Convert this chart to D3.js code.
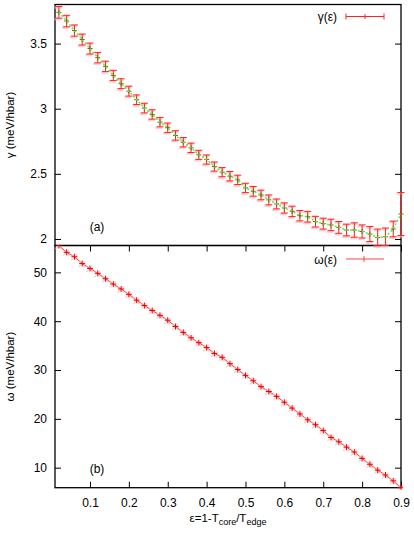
<!DOCTYPE html>
<html><head><meta charset="utf-8">
<script src="https://cdn.jsdelivr.net/npm/d3@7"></script>
<style>body{margin:0;background:#fff}svg{display:block}text{font-family:"Liberation Sans",Arial,sans-serif}</style>
</head><body><svg id="c" width="414" height="533"></svg>
<script>
const eps = [0.02,0.04,0.06,0.08,0.10,0.12,0.14,0.16,0.18,0.20,0.22,0.24,0.26,0.28,0.30,0.32,0.34,0.36,0.38,0.40,0.42,0.44,0.46,0.48,0.50,0.52,0.54,0.56,0.58,0.60,0.62,0.64,0.66,0.68,0.70,0.72,0.74,0.76,0.78,0.80,0.82,0.84,0.86,0.88,0.90];
const gamma = [3.74,3.673,3.60,3.531,3.462,3.392,3.325,3.256,3.192,3.135,3.069,3.005,2.956,2.897,2.854,2.795,2.743,2.700,2.646,2.610,2.556,2.513,2.482,2.454,2.392,2.366,2.338,2.300,2.269,2.238,2.212,2.179,2.171,2.133,2.118,2.108,2.089,2.069,2.069,2.058,2.038,2.012,2.017,2.077,2.192];
const gammaErr = [0.045,0.044,0.043,0.042,0.042,0.040,0.040,0.039,0.038,0.038,0.037,0.037,0.036,0.036,0.036,0.036,0.036,0.036,0.035,0.035,0.035,0.035,0.036,0.036,0.036,0.037,0.037,0.038,0.038,0.039,0.040,0.040,0.041,0.041,0.042,0.044,0.045,0.045,0.055,0.050,0.058,0.064,0.067,0.060,0.165];
const omega = [55.5,54.1,53.2,51.8,50.8,49.8,48.7,47.6,46.6,45.5,44.3,43.2,42.2,41.2,40.2,38.9,37.7,36.6,35.6,34.6,33.4,32.6,31.3,30.1,28.9,27.8,26.6,25.6,24.6,23.4,22.2,21.0,19.8,18.8,17.6,16.2,15.3,14.2,13.2,11.9,10.7,9.5,8.5,7.3,5.9];
const xTicks = [0.1,0.2,0.3,0.4,0.5,0.6,0.7,0.8,0.9];
const gammaTicks = [2,2.5,3,3.5];
const omegaTicks = [10,20,30,40,50];

const svg = d3.select("#c");
const L = 55, R = 401, T1 = 4.5, B1 = 245.5, T2 = 245.5, B2 = 487.7;
const x = d3.scaleLinear().domain([0.01, 0.9]).range([L, R]);
const yG = d3.scaleLinear().domain([1.95, 3.8]).range([B1, T1]);
const yW = d3.scaleLinear().domain([5.9, 55.5]).range([B2, T2]);

function styleAxis(g){ g.select(".domain").remove(); g.selectAll("line").attr("stroke","#000"); g.selectAll("text").attr("font-size","12px").attr("fill","#000").attr("font-family","Liberation Sans, Arial, sans-serif"); }

svg.append("g").attr("transform",`translate(${L},0)`).call(d3.axisLeft(yG).tickValues(gammaTicks).tickFormat(d3.format("")).tickSize(-6).tickPadding(8)).call(styleAxis);
svg.append("g").attr("transform",`translate(${R},0)`).call(d3.axisRight(yG).tickValues(gammaTicks).tickFormat("").tickSize(-6)).call(styleAxis);
svg.append("g").attr("transform",`translate(${L},0)`).call(d3.axisLeft(yW).tickValues(omegaTicks).tickSize(-6).tickPadding(8)).call(styleAxis);
svg.append("g").attr("transform",`translate(${R},0)`).call(d3.axisRight(yW).tickValues(omegaTicks).tickFormat("").tickSize(-6)).call(styleAxis);
svg.append("g").attr("transform",`translate(0,${B2})`).call(d3.axisBottom(x).tickValues(xTicks).tickFormat(d3.format("")).tickSize(-6).tickPadding(11)).call(styleAxis);
svg.append("g").attr("transform",`translate(0,${T2})`).call(d3.axisTop(x).tickValues(xTicks).tickFormat("").tickSize(-6)).call(styleAxis);

svg.append("rect").attr("x",L).attr("y",T1).attr("width",R-L).attr("height",B1-T1).attr("fill","none").attr("stroke","#000").attr("stroke-width",1.3);
svg.append("rect").attr("x",L).attr("y",T2).attr("width",R-L).attr("height",B2-T2).attr("fill","none").attr("stroke","#000").attr("stroke-width",1.3);

svg.append("clipPath").attr("id","cb").append("rect").attr("x",L).attr("y",T2).attr("width",R-L+2).attr("height",B2-T2+2);

const gd = eps.map((e,i)=>({e, v:gamma[i], s:gammaErr[i]}));
const eb = svg.append("g");
const cw = 3.5;
gd.forEach(d=>{
  const cx = x(d.e), y0 = yG(d.v - d.s), y1 = yG(d.v + d.s);
  eb.append("line").attr("x1",cx-cw-1).attr("x2",cx+cw-1).attr("y1",y1+1).attr("y2",y1+1).attr("stroke","#ffb0b0").attr("stroke-width",2.5).attr("opacity",0.6);
  eb.append("line").attr("x1",cx-cw-1).attr("x2",cx+cw-1).attr("y1",y0+1).attr("y2",y0+1).attr("stroke","#ffb0b0").attr("stroke-width",2.5).attr("opacity",0.6);
  eb.append("line").attr("x1",cx).attr("x2",cx).attr("y1",y0).attr("y2",y1).attr("stroke","#f22").attr("stroke-width",1);
  eb.append("line").attr("x1",cx-cw).attr("x2",cx+cw).attr("y1",y0).attr("y2",y0).attr("stroke","#f22").attr("stroke-width",1);
  eb.append("line").attr("x1",cx-cw).attr("x2",cx+cw).attr("y1",y1).attr("y2",y1).attr("stroke","#f22").attr("stroke-width",1);
  eb.append("path").attr("d",`M${cx-2.5},${yG(d.v)}H${cx+2.5}M${cx},${yG(d.v)-2.5}V${yG(d.v)+2.5}`).attr("stroke","#8a5a00").attr("stroke-width",1);
});
svg.append("path").datum(gd).attr("fill","none").attr("stroke","#55ee55").attr("stroke-width",1.5).attr("stroke-dasharray","2,2")
  .attr("d", d3.line().x(d=>x(d.e)).y(d=>yG(d.v)));

const wd = eps.map((e,i)=>({e, v:omega[i]}));
const bg = svg.append("g").attr("clip-path","url(#cb)");
bg.append("path").datum(wd).attr("fill","none").attr("stroke","#f33").attr("stroke-width",1)
  .attr("d", d3.line().x(d=>x(d.e)).y(d=>yW(d.v)));
bg.selectAll("path.h").data(wd).join("path").attr("class","h")
  .attr("d",d=>{const cx=x(d.e)-0.5, cy=yW(d.v)+0.5; return `M${cx-3},${cy-3}L${cx+3},${cy+3}M${cx-3},${cy+3}L${cx+3},${cy-3}`;})
  .attr("stroke","#ffb0b0").attr("stroke-width",1.3).attr("opacity",0.6);
bg.selectAll("path.m").data(wd).join("path").attr("class","m")
  .attr("d",d=>{const cx=x(d.e), cy=yW(d.v); return `M${cx-3},${cy}H${cx+3}M${cx},${cy-3}V${cy+3}`;})
  .attr("stroke","#e00").attr("stroke-width",1);

svg.append("text").attr("x",337).attr("y",21).attr("text-anchor","end").attr("font-size","12px").attr("font-family","Liberation Serif, serif").text("γ(ε)");
const lg = svg.append("g").attr("stroke","#f22").attr("stroke-width",1);
lg.append("line").attr("x1",346).attr("x2",384).attr("y1",16.5).attr("y2",16.5);
lg.append("line").attr("x1",346).attr("x2",346).attr("y1",13.5).attr("y2",19.5);
lg.append("line").attr("x1",384).attr("x2",384).attr("y1",13.5).attr("y2",19.5);
lg.append("line").attr("x1",365).attr("x2",365).attr("y1",14).attr("y2",19);

svg.append("text").attr("x",337).attr("y",263.5).attr("text-anchor","end").attr("font-size","12px").attr("font-family","Liberation Serif, serif").text("ω(ε)");
const lw = svg.append("g").attr("stroke","#f44").attr("stroke-width",1);
lw.append("line").attr("x1",346).attr("x2",384).attr("y1",259).attr("y2",259);
lw.append("line").attr("x1",364).attr("x2",364).attr("y1",256).attr("y2",262);

svg.append("text").attr("x",97).attr("y",231).attr("text-anchor","middle").attr("font-size","12px").text("(a)");
svg.append("text").attr("x",97).attr("y",473).attr("text-anchor","middle").attr("font-size","12px").text("(b)");

svg.append("text").attr("transform",`translate(14,${(T1+B1)/2}) rotate(-90)`).attr("text-anchor","middle").attr("font-size","11.5px").text("γ (meV/hbar)");
svg.append("text").attr("transform",`translate(14,${(T2+B2)/2}) rotate(-90)`).attr("text-anchor","middle").attr("font-size","11.5px").text("ω (meV/hbar)");

const xl = svg.append("text").attr("x",(L+R)/2).attr("y",522).attr("text-anchor","middle").attr("font-size","11.5px");
xl.append("tspan").text("ε=1-T");
xl.append("tspan").attr("font-size","9px").attr("dy",3).text("core");
xl.append("tspan").attr("dy",-3).text("/T");
xl.append("tspan").attr("font-size","9px").attr("dy",3).text("edge");
</script></body></html>
